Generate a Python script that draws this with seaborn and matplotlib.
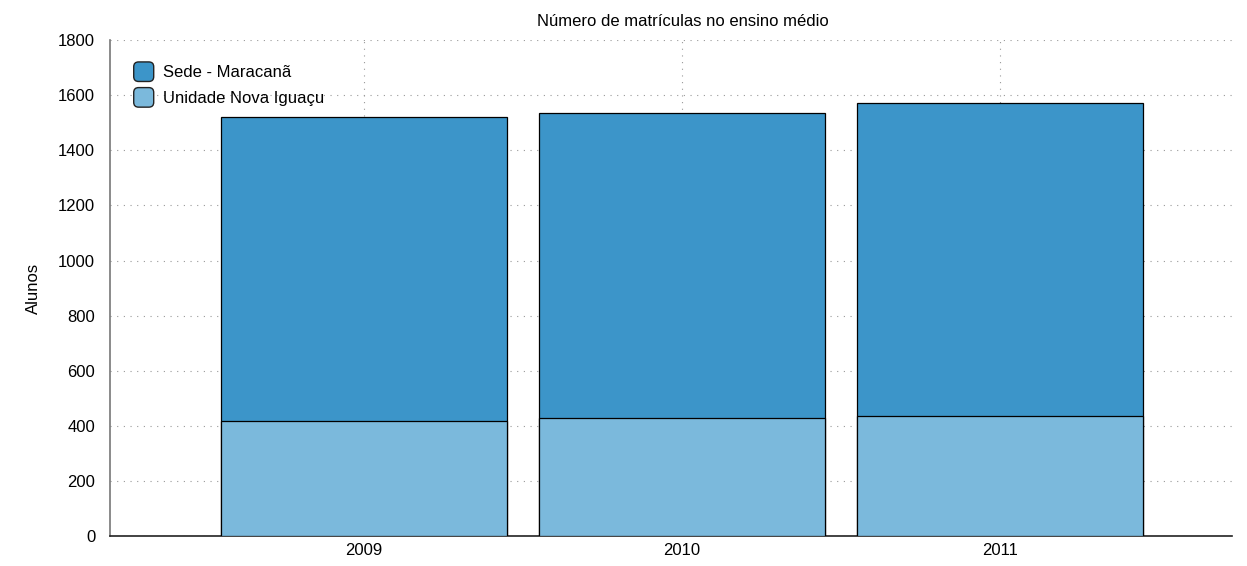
import matplotlib
matplotlib.use("Agg")
import matplotlib.pyplot as plt
import matplotlib.patches as mpatches
from matplotlib.legend_handler import HandlerPatch
from matplotlib.ticker import MultipleLocator
import pandas as pd
import seaborn as sns

years = ["2009", "2010", "2011"]
sede = [1103, 1107, 1136]
nova_iguacu = [417, 428, 435]

DARK = "#3c95c9"
LIGHT = "#7bb9dc"

sns.set_style("white")
plt.rcParams["font.family"] = ["Liberation Sans", "DejaVu Sans"]
plt.rcParams["text.color"] = "black"
plt.rcParams["axes.labelcolor"] = "black"

df = pd.DataFrame({"ano": years, "sede": sede, "nova": nova_iguacu})
df["total"] = df["sede"] + df["nova"]

fig, ax = plt.subplots(figsize=(12.47, 5.66), dpi=100)
fig.subplots_adjust(left=0.088, right=0.988, top=0.929, bottom=0.053)

sns.barplot(data=df, x="ano", y="total", color=DARK, width=0.9, saturation=1,
            edgecolor="black", linewidth=0.9, ax=ax, zorder=3)
sns.barplot(data=df, x="ano", y="nova", color=LIGHT, width=0.9, saturation=1,
            edgecolor="black", linewidth=0.9, ax=ax, zorder=3)

ax.set_xlim(-0.80, 2.73)
ax.set_ylim(0, 1800)
ax.yaxis.set_major_locator(MultipleLocator(200))
ax.yaxis.set_minor_locator(MultipleLocator(100))
ax.grid(True, which="major", linestyle=(0, (1, 5)), color="#999999", linewidth=0.8, zorder=0)
ax.tick_params(axis="both", which="major", direction="out", length=7, width=1,
               labelsize=12, colors="black")
ax.tick_params(axis="y", which="minor", direction="out", length=4, width=1, colors="#777777")
ax.tick_params(axis="x", length=0, pad=5)
for s in ["top", "right"]:
    ax.spines[s].set_visible(False)
ax.spines["left"].set_color("#777777")
ax.spines["left"].set_linewidth(1.2)
ax.spines["bottom"].set_color("#222222")
ax.spines["bottom"].set_linewidth(1.2)

ax.set_xlabel("")
ax.set_ylabel("Alunos", fontsize=12, labelpad=12)
ax.set_title("Número de matrículas no ensino médio", fontsize=12, pad=10, x=0.511)


class RoundBox(HandlerPatch):
    def create_artists(self, legend, orig, xd, yd, w, h, fs, trans):
        p = mpatches.FancyBboxPatch((-xd, -yd - 0.5), w, h + 1,
                                    boxstyle="round,pad=0,rounding_size=3.5",
                                    facecolor=orig.get_facecolor(),
                                    edgecolor="#222222", linewidth=1.0,
                                    transform=trans)
        return [p]


handles = [mpatches.Patch(facecolor=DARK, label="Sede - Maracanã"),
           mpatches.Patch(facecolor=LIGHT, label="Unidade Nova Iguaçu")]
ax.legend(handles=handles, loc="upper left", bbox_to_anchor=(0.008, 0.985),
          frameon=False, fontsize=12, handlelength=1.2, handleheight=1.3,
          handletextpad=0.55, labelspacing=0.45,
          handler_map={mpatches.Patch: RoundBox()})

plt.savefig("out.png", dpi=100)
